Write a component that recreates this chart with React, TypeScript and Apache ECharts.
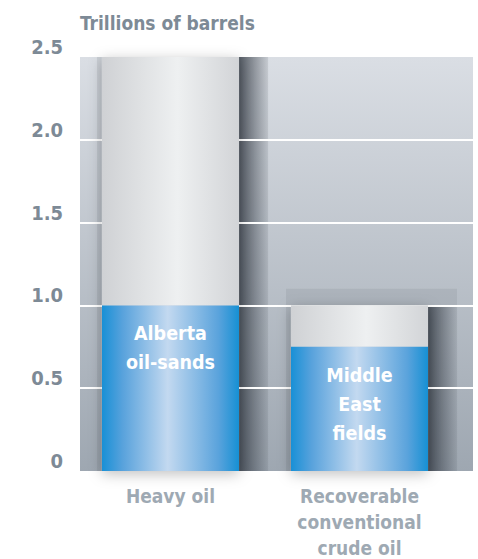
import React, { useEffect, useRef } from "react";
import * as echarts from "echarts";

const categories = ["Heavy oil", "Recoverable\nconventional\ncrude oil"];
const totalValues = [2.5, 1.0];
const highlightValues = [1.0, 0.75];
const highlightLabels = ["Alberta\noil-sands", "Middle\nEast\nfields"];
const boxValues = [2.5, 1.1];
const yTicks = [0, 0.5, 1.0, 1.5, 2.0, 2.5];

const FONT = "'Liberation Sans Narrow', 'DejaVu Sans Condensed', 'Roboto', sans-serif";

export default function App() {
  const ref = useRef<HTMLDivElement>(null);
  useEffect(() => {
    if (!ref.current) return;
    const chart = echarts.init(ref.current, null, { renderer: "svg" });
    const data = categories.map((_, i) => [i, totalValues[i], highlightValues[i], boxValues[i]]);

    const backRender = (params: any, api: any) => {
      const idx = api.value(0);
      const [cx, y0] = api.coord([idx, 0]);
      const band = api.size([1, 0])[0];
      const bw = band * 0.725;
      const left = cx - bw / 2;
      const yBox = api.coord([idx, api.value(3)])[1];
      const yTop = api.coord([idx, api.value(1)])[1];
      return {
        type: "group",
        children: [
          {
            type: "rect",
            shape: { x: left - 5, y: yBox, width: bw + 34, height: y0 - yBox },
            style: { fill: "rgba(95,100,110,0.13)" },
          },
          {
            type: "rect",
            shape: { x: left + bw, y: yTop, width: 30, height: y0 - yTop },
            style: {
              fill: new echarts.graphic.LinearGradient(0, 0, 1, 0, [
                { offset: 0, color: "rgba(55,62,72,0.8)" },
                { offset: 1, color: "rgba(55,62,72,0)" },
              ]),
            },
          },
        ],
      };
    };

    const frontRender = (params: any, api: any) => {
      const idx = api.value(0);
      const [cx, y0] = api.coord([idx, 0]);
      const band = api.size([1, 0])[0];
      const bw = band * 0.725;
      const left = cx - bw / 2;
      const yTop = api.coord([idx, api.value(1)])[1];
      const yBlue = api.coord([idx, api.value(2)])[1];
      return {
        type: "group",
        children: [
          {
            type: "rect",
            shape: { x: left, y: yTop, width: bw, height: y0 - yTop },
            style: {
              fill: "#d5d7da",
              shadowBlur: 14,
              shadowColor: "rgba(0,0,0,0.25)",
              shadowOffsetY: 3,
            },
          },
          {
            type: "rect",
            shape: { x: left, y: yTop, width: bw, height: yBlue - yTop },
            style: {
              fill: new echarts.graphic.LinearGradient(0, 0, 1, 0, [
                { offset: 0, color: "#cfd1d4" },
                { offset: 0.55, color: "#eef0f1" },
                { offset: 1, color: "#d2d4d7" },
              ]),
            },
          },
          {
            type: "rect",
            shape: { x: left, y: yBlue, width: bw, height: y0 - yBlue },
            style: {
              fill: new echarts.graphic.LinearGradient(0, 0, 1, 0, [
                { offset: 0, color: "#1890d6" },
                { offset: 0.15, color: "#58a2dc" },
                { offset: 0.48, color: "#c3d9f0" },
                { offset: 0.85, color: "#5aa3dc" },
                { offset: 1, color: "#1690d4" },
              ]),
            },
          },
          {
            type: "text",
            x: cx,
            y: yBlue + 14,
            style: {
              text: highlightLabels[idx],
              fill: "#ffffff",
              font: `bold 19.5px ${FONT}`,
              align: "center",
              verticalAlign: "top",
              lineHeight: 29,
            },
          },
        ],
      };
    };

    chart.setOption({
      animation: false,
      graphic: [
        {
          type: "rect",
          z: -10,
          shape: { x: 80, y: 57, width: 393, height: 414 },
          style: {
            fill: new echarts.graphic.LinearGradient(0, 0, 0, 1, [
              { offset: 0, color: "#dadee4" },
              { offset: 1, color: "#9ea7b1" },
            ]),
          },
        },
        {
          type: "text",
          left: 80,
          top: 13,
          style: {
            text: "Trillions of barrels",
            fill: "#7d8a96",
            font: `bold 19px ${FONT}`,
          },
        },
      ],
      grid: [
        { left: 76, right: 24, top: 57, bottom: 88, outerBoundsMode: "none", containLabel: false },
        { left: 80, right: 5, top: 57, bottom: 88, outerBoundsMode: "none", containLabel: false },
      ],
      xAxis: [
        {
          type: "category",
          gridIndex: 0,
          data: categories,
          axisLine: { show: false },
          axisTick: { show: false },
          axisLabel: {
            color: "#9ea9b3",
            fontFamily: FONT,
            fontWeight: "bold",
            fontSize: 19,
            lineHeight: 26,
            margin: 12,
            interval: 0,
          },
        },
        { type: "value", gridIndex: 1, show: false, min: 0, max: 1 },
      ],
      yAxis: [
        {
          type: "value",
          gridIndex: 0,
          min: 0,
          max: 2.5,
          interval: 0.5,
          axisLine: { show: false },
          axisTick: { show: false },
          splitLine: { show: false },
          axisLabel: {
            color: "#7d8a96",
            fontFamily: FONT,
            fontWeight: "bold",
            fontSize: 20,
            verticalAlign: "bottom",
            margin: 13,
            formatter: (v: number) => {
              const t = yTicks.find((x) => Math.abs(x - v) < 1e-9);
              return t === 0 ? "0" : (t ?? v).toFixed(1);
            },
          },
        },
        {
          type: "value",
          gridIndex: 1,
          min: 0,
          max: 2.5,
          interval: 0.5,
          axisLine: { show: false },
          axisTick: { show: false },
          axisLabel: { show: false },
          splitLine: {
            show: true,
            lineStyle: {
              color: ["transparent", "#ffffff", "#ffffff", "#ffffff", "#ffffff", "transparent"],
              width: 2,
            },
          },
        },
      ],
      series: [
        { type: "custom", z: -1, renderItem: backRender, data, clip: false },
        { type: "custom", z: 2, renderItem: frontRender, data, clip: false },
      ],
    });
    return () => chart.dispose();
  }, []);
  return (
    <div
      ref={ref}
      style={{ position: "absolute", left: 0, top: 0, width: 478, height: 559 }}
    />
  );
}
